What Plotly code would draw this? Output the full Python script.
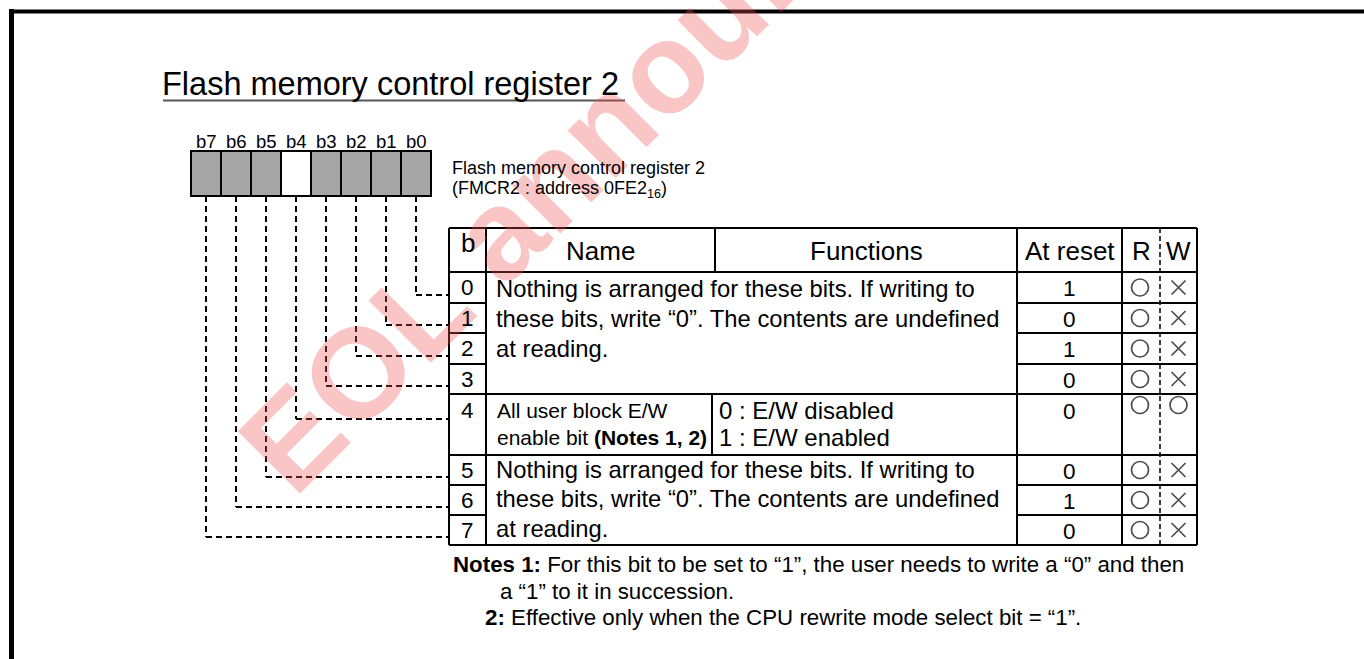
import plotly.graph_objects as go

# ---------------- data ----------------
bit_labels = ["b7", "b6", "b5", "b4", "b3", "b2", "b1", "b0"]
bit_reserved = [True, True, True, False, True, True, True, True]
row_bits = ["0", "1", "2", "3", "4", "5", "6", "7"]
reset_values = ["1", "0", "1", "0", "0", "0", "1", "0"]
read_marks = ["O", "O", "O", "O", "O", "O", "O", "O"]
write_marks = ["X", "X", "X", "X", "O", "X", "X", "X"]
header_labels = ["b", "Name", "Functions", "At reset", "R", "W"]
reserved_text = ["Nothing is arranged for these bits. If writing to",
                 "these bits, write \u201c0\u201d. The contents are undefined",
                 "at reading."]
bit4_name = ["All user block E/W", "enable bit <b>(Notes 1, 2)</b>"]
bit4_functions = ["0 : E/W disabled", "1 : E/W enabled"]
title_text = "Flash memory control register 2"
reg_name = "Flash memory control register 2"
reg_addr = "(FMCR2 : address 0FE2<sub>16</sub>)"
notes = ["<b>Notes 1:</b> For this bit to be set to \u201c1\u201d, the user needs to write a \u201c0\u201d and then",
         "a \u201c1\u201d to it in succession.",
         "<b>2:</b> Effective only when the CPU rewrite mode select bit = \u201c1\u201d."]
watermark = "EOL announced"

# ---------------- layout constants (pixels) ----------------
W, H = 1364, 659
FONT = "Liberation Sans, Arial, sans-serif"
BLACK = "#000000"

reg_left, reg_cell, reg_top, reg_bot = 191, 30.0, 151, 196
tbl_top = 228
row_edges = [272, 303, 333, 364, 394, 455, 485, 515, 545]
xb0, xb1, x_nf, x_nf4, x_f, x_r, x_w, x_e = 449, 486, 715, 712, 1017, 1122, 1160, 1197

shapes = []
ann = []


def line(x0, y0, x1, y1, width=2, dash=None, color=BLACK):
    d = dict(type="line", x0=x0, y0=y0, x1=x1, y1=y1, xref="x", yref="y",
             line=dict(color=color, width=width))
    if dash:
        d["line"]["dash"] = dash
    shapes.append(d)


def text(x, y, s, size, xanchor="left", yanchor="middle", color=BLACK, **kw):
    ann.append(dict(x=x, y=y, xref="x", yref="y", text=s, showarrow=False,
                    xanchor=xanchor, yanchor=yanchor, borderpad=0,
                    font=dict(family=FONT, size=size, color=color), **kw))


# watermark first (under the rest of the text)
ann.append(dict(x=608, y=122, xref="x", yref="y", text="<b>" + watermark + "</b>",
                showarrow=False, textangle=-45, xanchor="center", yanchor="middle",
                font=dict(family=FONT, size=128, color="rgba(238,80,80,0.33)")))

# frame
line(9, 11.5, W, 11.5, width=4)
line(11.5, 9, 11.5, H, width=5)

# title
text(161, 84, title_text, 32.5)
line(163, 100.5, 625, 100.5, width=2, color="#555555")

# register boxes
for i, (lab, res) in enumerate(zip(bit_labels, bit_reserved)):
    x0 = reg_left + i * reg_cell
    shapes.append(dict(type="rect", x0=x0, x1=x0 + reg_cell, y0=reg_top, y1=reg_bot,
                       xref="x", yref="y", fillcolor="#a6a6a6" if res else "#ffffff",
                       line=dict(color=BLACK, width=2)))
    text(x0 + reg_cell / 2, 141, lab, 18.5, xanchor="center")

text(451, 168, reg_name, 18)
text(451, 189, reg_addr, 18)

# dashed leader lines: bit b(n) -> row n
for i, lab in enumerate(bit_labels):
    n = int(lab[1])
    cx = reg_left + i * reg_cell + reg_cell / 2
    if n == 4:
        yy = row_edges[4] + 25
    else:
        yy = row_edges[n + 1] - 8
    line(cx, reg_bot, cx, yy, width=2, dash="6px,4px")
    line(cx, yy, xb0, yy, width=2, dash="6px,4px")

# table outline
y_bot = row_edges[-1]
line(xb0, tbl_top, x_e, tbl_top)
line(xb0, y_bot, x_e, y_bot)
for xx in (xb0, xb1, x_f, x_r, x_e):
    line(xx, tbl_top, xx, y_bot)
line(x_w, tbl_top, x_w, y_bot, width=1.5, dash="5px,3px")
line(x_nf, tbl_top, x_nf, row_edges[0])
line(x_nf4, row_edges[4], x_nf4, row_edges[5])
# horizontal lines
line(xb0, row_edges[0], x_e, row_edges[0])
line(xb0, row_edges[4], x_e, row_edges[4])
line(xb0, row_edges[5], x_e, row_edges[5])
for k in (1, 2, 3, 6, 7):
    line(xb0, row_edges[k], xb1, row_edges[k])
    line(x_f, row_edges[k], x_e, row_edges[k])

# header
hx = [(xb0 + xb1) / 2, (xb1 + x_nf) / 2, (x_nf + x_f) / 2, (x_f + x_r) / 2,
      (x_r + x_w) / 2, (x_w + x_e) / 2]
for lab, xx in zip(header_labels, hx):
    yy = 243 if lab == "b" else 251
    text(xx, yy, lab, 26, xanchor="center")

# rows
mark_x, mark_y, mark_sym = [], [], []
for r, (bn, rv, rm, wm) in enumerate(zip(row_bits, reset_values, read_marks, write_marks)):
    y0, y1 = row_edges[r], row_edges[r + 1]
    yc = (y0 + y1) / 2 if r != 4 else y0 + 16
    text((xb0 + xb1) / 2, yc, bn, 22.5, xanchor="center")
    text((x_f + x_r) / 2, yc + 1, rv, 22.5, xanchor="center")
    ym = yc if r != 4 else y0 + 11
    for mx, m in ((hx[4] - 1, rm), (hx[5], wm)):
        mark_x.append(mx)
        mark_y.append(ym)
        mark_sym.append("circle-open" if m == "O" else "x-thin-open")

for k, s in enumerate(reserved_text):
    text(495, 288 + 30 * k, s, 23.8)
    text(495, 469 + 29.5 * k, s, 23.8)

text(496, 410, bit4_name[0], 21)
text(496, 437, bit4_name[1], 21)
text(718, 410, bit4_functions[0], 24)
text(718, 437, bit4_functions[1], 24)

# notes
text(452, 564, notes[0], 22.3)
text(499, 591, notes[1], 22.3)
text(484, 617, notes[2], 22.3)

fig = go.Figure()
fig.add_trace(go.Scatter(
    x=mark_x, y=mark_y, mode="markers", hoverinfo="skip",
    marker=dict(symbol=mark_sym, size=[17 if s == "circle-open" else 14 for s in mark_sym],
                color=BLACK, line=dict(color=BLACK, width=1.7))))

fig.update_layout(
    width=W, height=H, margin=dict(l=0, r=0, t=0, b=0),
    paper_bgcolor="white", plot_bgcolor="white", showlegend=False,
    xaxis=dict(range=[0, W], visible=False, fixedrange=True),
    yaxis=dict(range=[H, 0], visible=False, fixedrange=True),
    shapes=shapes, annotations=ann,
)
fig.write_html("out.html", config={"displayModeBar": False},
               post_script="document.body.style.margin='0';document.body.style.overflow='hidden';")
